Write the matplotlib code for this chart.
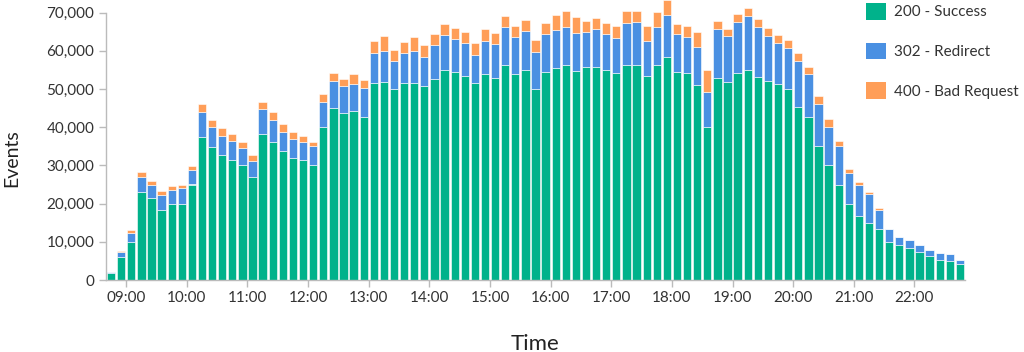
import matplotlib.pyplot as plt
import matplotlib.dates as mdates
from matplotlib.patches import Patch
from matplotlib.ticker import FuncFormatter
import pandas as pd

plt.rcParams['font.family'] = ['Lato', 'DejaVu Sans']

# 10-minute bins, 08:40 .. 22:40
bins = pd.date_range('2024-01-01 08:40', '2024-01-01 22:40', freq='10min')

success = [1900, 5900, 10000, 23100, 21500, 18200, 20000, 20000, 25000, 37400,
           34900, 32700, 31500, 30000, 26900, 38200, 36200, 33800, 32000, 31500,
           30000, 40000, 45100, 43700, 44300, 42700, 51700, 51900, 50000, 51600,
           51700, 50900, 52600, 55100, 54500, 53400, 51600, 53900, 52800, 56200,
           53800, 55100, 50000, 54500, 55400, 56300, 54800, 55700, 55700, 55100,
           54100, 56200, 56300, 53400, 56200, 58300, 54500, 54100, 51000, 40100,
           52800, 51800, 54100, 55100, 53100, 52100, 51300, 50000, 45200, 42800,
           35200, 30000, 24900, 20000, 16800, 14900, 13300, 10000, 9200, 8300,
           7200, 6400, 5300, 5100, 4300]
redirect = [300, 1500, 2400, 3800, 3400, 4000, 3600, 4000, 3800, 6700,
            5100, 5000, 4900, 4500, 4300, 6500, 5700, 5000, 4900, 4700,
            5200, 6700, 7100, 7100, 7100, 7600, 7800, 8000, 7200, 7800,
            8300, 7600, 8800, 9000, 8500, 8600, 7300, 8700, 9100, 10000,
            9800, 10100, 9800, 10000, 10000, 10000, 9800, 9200, 10000, 9400,
            9300, 11100, 11200, 9100, 10100, 11100, 10000, 9400, 10000, 9000,
            13000, 12100, 13500, 14100, 13200, 11900, 10700, 10800, 12000, 11000,
            10900, 10100, 10300, 8100, 8000, 7600, 5100, 3300, 2000, 2200,
            2000, 1400, 1700, 1700, 900]
bad_request = [0, 200, 700, 1400, 900, 1000, 1000, 1000, 1000, 2000,
               1900, 2000, 1700, 1700, 1500, 1900, 2000, 2000, 1900, 1600,
               1000, 1900, 2100, 1900, 2400, 2000, 3100, 4100, 2900, 2900,
               3700, 2900, 3000, 2900, 2900, 2800, 3100, 3000, 2800, 3000,
               3000, 2900, 2900, 2900, 3900, 4000, 4200, 3000, 3000, 2900,
               3100, 3000, 2900, 4000, 3800, 3900, 2600, 3100, 3900, 6000,
               2100, 1900, 2000, 1900, 2000, 2000, 2100, 2000, 2100, 2000,
               2000, 2000, 1100, 1000, 900, 500, 450, 0, 0, 0,
               0, 0, 0, 0, 0]

labels = ['200 - Success', '302 - Redirect', '400 - Bad Request']
colors = ['#00b28b', '#4a90e2', '#ff9e58']

x = mdates.date2num(bins) + 5 / 1440
width = 8.2 / 1440

W, H = 1024, 352
fig = plt.figure(figsize=(W / 100, H / 100), dpi=100)
ax = fig.add_axes([106 / W, 1 - 280 / H, (965 - 106) / W, (280 - 12.6) / H])

bottom = [0] * len(x)
for vals, c in zip([success, redirect, bad_request], colors):
    ax.bar(x, vals, width=width, bottom=bottom, color=c,
           edgecolor='#ffffff', linewidth=0.4, clip_on=False, zorder=2)
    bottom = [b + v for b, v in zip(bottom, vals)]

ax.set_xlim(mdates.date2num(pd.Timestamp('2024-01-01 08:40')),
            mdates.date2num(pd.Timestamp('2024-01-01 22:50')))
ax.set_ylim(0, 70000)
ax.set_yticks(range(0, 70001, 10000))
ax.yaxis.set_major_formatter(FuncFormatter(lambda v, p: f'{int(v):,}'))
ax.xaxis.set_major_locator(mdates.HourLocator(byhour=range(9, 23)))
ax.xaxis.set_major_formatter(mdates.DateFormatter('%H:%M'))

for s in ['top', 'right']:
    ax.spines[s].set_visible(False)
for s in ['left', 'bottom']:
    ax.spines[s].set_color('#bbbbbb')
    ax.spines[s].set_linewidth(1)
ax.tick_params(colors='#bbbbbb', labelcolor='#333333', labelsize=11, length=5, width=1)
ax.tick_params(axis='x', pad=3)

fig.text(12 / W, 1 - 158 / H, 'Events', rotation=90, ha='center', va='center',
         fontsize=14, color='#222222')
fig.text(535 / W, 1 - 350 / H, 'Time', ha='center', va='baseline',
         fontsize=16, color='#222222')

handles = [Patch(facecolor=c, edgecolor='none') for c in colors]
fig.legend(handles, labels, loc='upper left', bbox_to_anchor=(866 / W, 1 - 3 / H),
           frameon=False, fontsize=11, handlelength=1.3, handleheight=1.3,
           handletextpad=0.55, labelspacing=1.5, borderpad=0, borderaxespad=0,
           labelcolor='#333333')

fig.savefig('out.png', dpi=100)
